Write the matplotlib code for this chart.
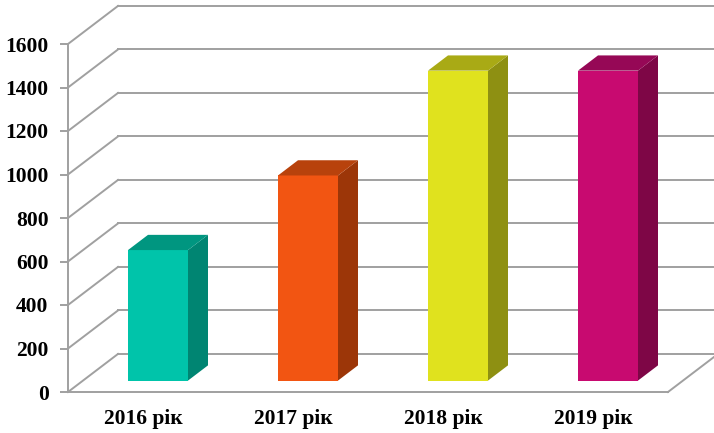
import numpy as np
import matplotlib
matplotlib.use('Agg')
import matplotlib.pyplot as plt
from matplotlib.patches import Polygon

# data
categories = ['2016 рік', '2017 рік', '2018 рік', '2019 рік']
values = [600, 943, 1425, 1425]
yticks = [0, 200, 400, 600, 800, 1000, 1200, 1400, 1600]

front_colors = ['#00C4AA', '#F25512', '#E0E21E', '#C80A70']
side_colors = ['#008572', '#9C3608', '#8E9012', '#7E0646']
top_colors = ['#009680', '#B8420C', '#A9AA15', '#960856']

# fake 3d: depth offset of the back wall in data units
DX = 1.0 / 3
DY = 175.0
bar_w = 0.4
d0, d1 = 0.3, 0.7   # bar front / back depth
grid_c = '#A0A0A0'

plt.rcParams['font.family'] = ['Liberation Serif', 'DejaVu Serif']

fig = plt.figure(figsize=(7.14, 4.33), dpi=100)
ax = fig.add_axes([68 / 714, 41 / 433, 600 / 714, 348 / 433])
ax.set_xlim(0, 4)
ax.set_ylim(0, 1600)

# walls: left diagonals + back grid lines
for v in yticks:
    ax.plot([0, DX], [v, v + DY], color=grid_c, lw=1.4, clip_on=False, zorder=1)
    ax.plot([DX, 4 + DX], [v + DY, v + DY], color=grid_c, lw=1.4, clip_on=False, zorder=1)
# floor right edge
ax.plot([4, 4 + DX], [0, DY], color=grid_c, lw=1.4, clip_on=False, zorder=1)

x = np.arange(len(categories)) + 0.5
ax.bar(x + d0 * DX, values, width=bar_w, bottom=d0 * DY, color=front_colors,
       zorder=3, clip_on=False)

for i, v in enumerate(values):
    x0 = x[i] - bar_w / 2 + d0 * DX
    x1 = x[i] + bar_w / 2 + d0 * DX
    ddx = (d1 - d0) * DX
    ddy = (d1 - d0) * DY
    yb = d0 * DY
    yt = v + d0 * DY
    side = Polygon([(x1, yb), (x1 + ddx, yb + ddy), (x1 + ddx, yt + ddy), (x1, yt)],
                   closed=True, facecolor=side_colors[i], edgecolor='none',
                   zorder=3, clip_on=False)
    top = Polygon([(x0, yt), (x1, yt), (x1 + ddx, yt + ddy), (x0 + ddx, yt + ddy)],
                  closed=True, facecolor=top_colors[i], edgecolor='none',
                  zorder=3, clip_on=False)
    ax.add_patch(side)
    ax.add_patch(top)

ax.set_xticks(x)
ax.set_xticklabels(categories, fontsize=15.5, fontweight='bold')
ax.set_yticks(yticks)
ax.set_yticklabels([str(t) for t in yticks], fontsize=15.5, fontweight='bold')
ax.tick_params(axis='x', length=0, pad=12)
ax.tick_params(axis='y', length=6, width=1.4, color=grid_c, pad=8)

for s in ['top', 'right']:
    ax.spines[s].set_visible(False)
for s in ['left', 'bottom']:
    ax.spines[s].set_color(grid_c)
    ax.spines[s].set_linewidth(1.4)
    ax.spines[s].set_zorder(1)
ax.patch.set_visible(False)

fig.savefig('out.png', dpi=100)
